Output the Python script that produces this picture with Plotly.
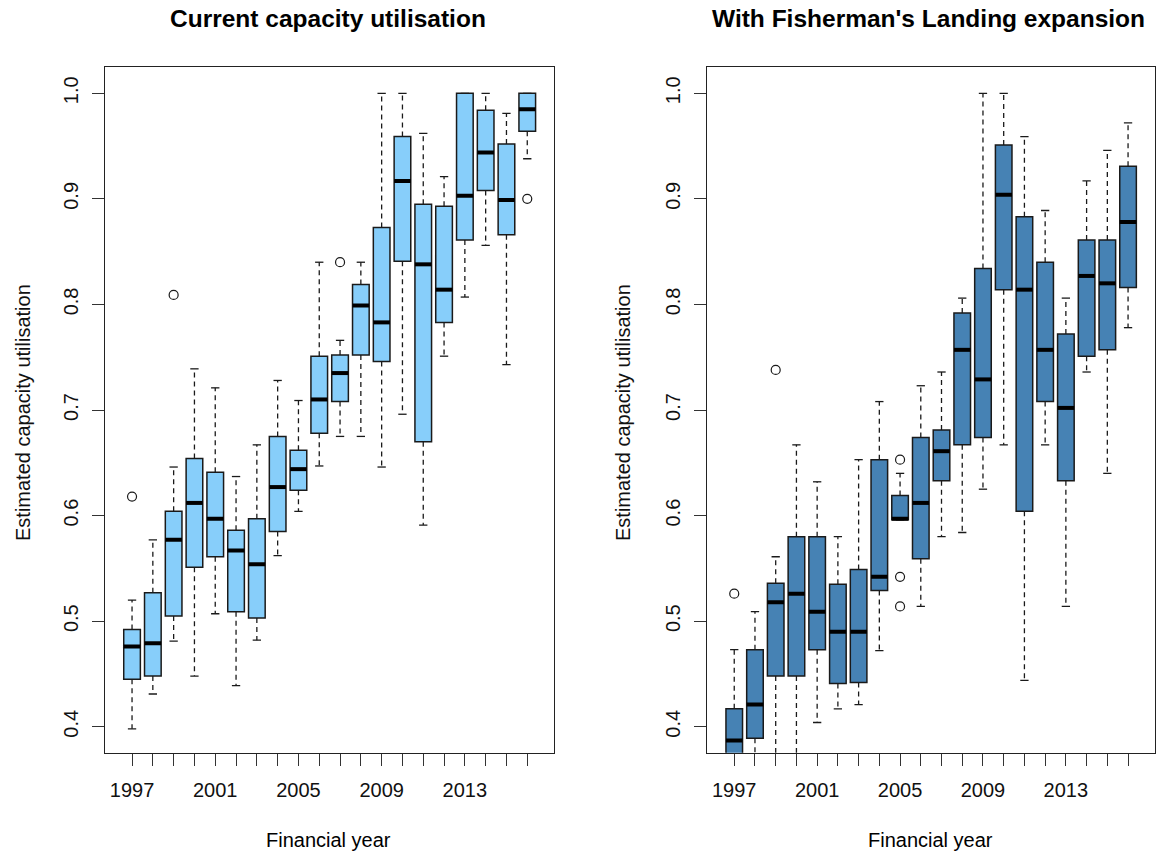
import plotly.graph_objects as go

# ---------------- data ----------------
years = [str(y) for y in range(1997, 2017)]
shown_labels = ["1997", "2001", "2005", "2009", "2013"]

# Current capacity utilisation
cur_low = [0.398, 0.431, 0.481, 0.448, 0.507, 0.439, 0.482, 0.562, 0.604, 0.647,
           0.675, 0.675, 0.646, 0.696, 0.591, 0.751, 0.807, 0.856, 0.743, 0.938]
cur_q1 = [0.445, 0.448, 0.505, 0.551, 0.561, 0.509, 0.503, 0.585, 0.624, 0.678,
          0.708, 0.752, 0.746, 0.841, 0.670, 0.783, 0.861, 0.908, 0.866, 0.964]
cur_med = [0.476, 0.479, 0.577, 0.612, 0.597, 0.567, 0.554, 0.627, 0.644, 0.710,
           0.735, 0.799, 0.783, 0.917, 0.838, 0.814, 0.903, 0.944, 0.899, 0.985]
cur_q3 = [0.492, 0.527, 0.604, 0.654, 0.641, 0.586, 0.597, 0.675, 0.662, 0.751,
          0.752, 0.819, 0.873, 0.959, 0.895, 0.893, 1.000, 0.984, 0.952, 1.000]
cur_high = [0.520, 0.577, 0.646, 0.739, 0.721, 0.637, 0.667, 0.728, 0.709, 0.840,
            0.766, 0.840, 1.000, 1.000, 0.962, 0.921, 1.000, 1.000, 0.981, 1.000]
cur_out_years = ["1997", "1999", "2007", "2016"]
cur_out_vals = [0.618, 0.809, 0.840, 0.900]

# With Fisherman's Landing expansion
exp_low = [0.300, 0.340, 0.350, 0.360, 0.404, 0.417, 0.421, 0.472, 0.596, 0.514,
           0.580, 0.584, 0.625, 0.667, 0.444, 0.667, 0.514, 0.736, 0.640, 0.778]
exp_q1 = [0.350, 0.389, 0.448, 0.448, 0.473, 0.441, 0.442, 0.529, 0.596, 0.559,
          0.633, 0.667, 0.674, 0.814, 0.604, 0.708, 0.633, 0.751, 0.757, 0.816]
exp_med = [0.387, 0.421, 0.518, 0.526, 0.509, 0.490, 0.490, 0.542, 0.597, 0.612,
           0.661, 0.757, 0.729, 0.904, 0.814, 0.757, 0.702, 0.827, 0.820, 0.878]
exp_q3 = [0.417, 0.473, 0.536, 0.580, 0.580, 0.535, 0.549, 0.653, 0.619, 0.674,
          0.681, 0.792, 0.834, 0.951, 0.883, 0.840, 0.772, 0.861, 0.861, 0.931]
exp_high = [0.473, 0.509, 0.561, 0.667, 0.632, 0.580, 0.653, 0.708, 0.640, 0.723,
            0.736, 0.806, 1.000, 1.000, 0.959, 0.889, 0.806, 0.917, 0.946, 0.972]
exp_out_years = ["1997", "1999", "2005", "2005", "2005"]
exp_out_vals = [0.526, 0.738, 0.653, 0.542, 0.514]

# ---------------- styles ----------------
FONT = "Liberation Sans, Arial, sans-serif"
BOXW = 0.8
CAPW = 0.4
EDGE = "#1a1a1a"

pos = list(range(1, len(years) + 1))
year_pos = {y: p for y, p in zip(years, pos)}

fig = go.Figure()


def add_panel(low, q1, med, q3, high, oyrs, ovals, fill, xa, ya):
    # boxes (whiskers collapsed; drawn dashed separately)
    fig.add_trace(go.Box(
        x=pos, q1=q1, median=med, q3=q3, lowerfence=q1, upperfence=q3,
        width=BOXW, fillcolor=fill, line=dict(color=EDGE, width=1.5),
        whiskerwidth=0, boxpoints=False, xaxis=xa, yaxis=ya, showlegend=False))
    # dashed whiskers
    wx, wy = [], []
    for p, a, b, c, d in zip(pos, low, q1, q3, high):
        wx += [p, p, None, p, p, None]
        wy += [c, d, None, b, a, None]
    fig.add_trace(go.Scatter(x=wx, y=wy, mode="lines",
                             line=dict(color=EDGE, width=1.3, dash="5px,4px"),
                             xaxis=xa, yaxis=ya, showlegend=False, hoverinfo="skip"))
    # staples
    sx, sy = [], []
    for p, a, d in zip(pos, low, high):
        sx += [p - CAPW / 2, p + CAPW / 2, None, p - CAPW / 2, p + CAPW / 2, None]
        sy += [d, d, None, a, a, None]
    fig.add_trace(go.Scatter(x=sx, y=sy, mode="lines",
                             line=dict(color=EDGE, width=1.3),
                             xaxis=xa, yaxis=ya, showlegend=False, hoverinfo="skip"))
    # thick medians
    mx, my = [], []
    for p, m in zip(pos, med):
        mx += [p - BOXW / 2, p + BOXW / 2, None]
        my += [m, m, None]
    fig.add_trace(go.Scatter(x=mx, y=my, mode="lines",
                             line=dict(color="black", width=4),
                             xaxis=xa, yaxis=ya, showlegend=False, hoverinfo="skip"))
    # outliers
    fig.add_trace(go.Scatter(x=[year_pos[y] for y in oyrs], y=ovals, mode="markers",
                             marker=dict(symbol="circle-open", size=9,
                                         color=EDGE, line=dict(width=1.2)),
                             xaxis=xa, yaxis=ya, showlegend=False))


add_panel(cur_low, cur_q1, cur_med, cur_q3, cur_high,
          cur_out_years, cur_out_vals, "#87CEFA", "x", "y")
add_panel(exp_low, exp_q1, exp_med, exp_q3, exp_high,
          exp_out_years, exp_out_vals, "#4682B4", "x2", "y2")

W, H = 1156, 854
ticktext = [y if y in shown_labels else "" for y in years]
xcommon = dict(range=[-0.3, 21.3], tickmode="array", tickvals=pos, ticktext=ticktext,
               ticks="outside", ticklen=12, tickwidth=1, tickcolor="#333",
               ticklabelstandoff=7,
               showline=True, linecolor="#222", linewidth=1.2, mirror=True,
               showgrid=False, zeroline=False,
               tickfont=dict(family=FONT, size=20, color="#111"))
ycommon = dict(range=[0.3754, 1.0252], tickmode="array",
               tickvals=[0.4, 0.5, 0.6, 0.7, 0.8, 0.9, 1.0],
               ticktext=["0.4", "0.5", "0.6", "0.7", "0.8", "0.9", "1.0"],
               ticks="outside", ticklen=12, tickwidth=1, tickcolor="#333",
               tickangle=-90, ticklabelstandoff=6,
               showline=True, linecolor="#222", linewidth=1.2, mirror=True,
               showgrid=False, zeroline=False,
               tickfont=dict(family=FONT, size=20, color="#111"))

fig.update_layout(
    width=W, height=H, margin=dict(l=0, r=0, t=0, b=0),
    paper_bgcolor="white", plot_bgcolor="white",
    xaxis=dict(domain=[105 / W, 554.3 / W], anchor="y", **xcommon),
    yaxis=dict(domain=[1 - 752.7 / H, 1 - 66.7 / H], anchor="x", **ycommon),
    xaxis2=dict(domain=[707.3 / W, 1155 / W], anchor="y2", **xcommon),
    yaxis2=dict(domain=[1 - 752.7 / H, 1 - 66.7 / H], anchor="x2", **ycommon),
)

ann = [
    dict(text="<b>Current capacity utilisation</b>", x=327.5 / W, y=1 - 18 / H, size=24.5),
    dict(text="<b>With Fisherman's Landing expansion</b>", x=928 / W, y=1 - 18 / H, size=24.5),
    dict(text="Financial year", x=328 / W, y=1 - 840 / H, size=20),
    dict(text="Financial year", x=930 / W, y=1 - 840 / H, size=20),
]
for a in ann:
    fig.add_annotation(text=a["text"], x=a["x"], y=a["y"], xref="paper", yref="paper",
                       xanchor="center", yanchor="middle", showarrow=False,
                       font=dict(family=FONT, size=a["size"], color="black"))
for xc in (23, 623):
    fig.add_annotation(text="Estimated capacity utilisation", x=xc / W, y=1 - 413 / H,
                       xref="paper", yref="paper", xanchor="center", yanchor="middle",
                       textangle=-90, showarrow=False,
                       font=dict(family=FONT, size=20, color="#111"))

fig.write_html("out.html")
